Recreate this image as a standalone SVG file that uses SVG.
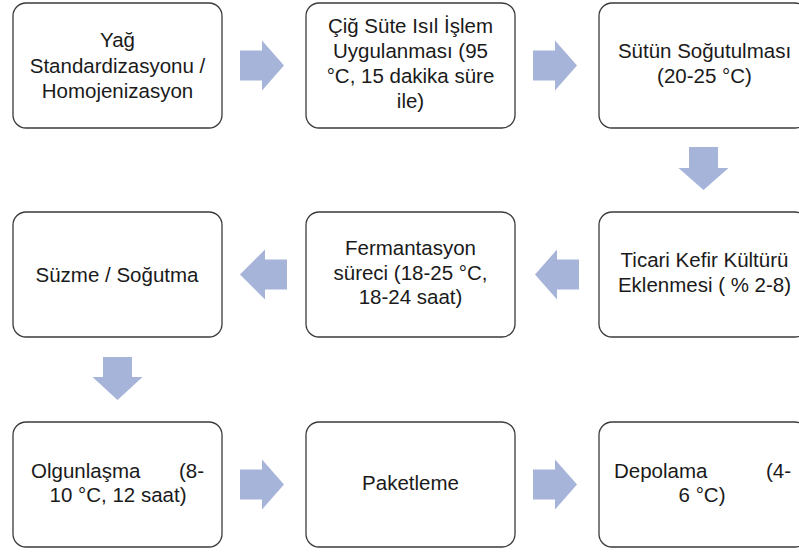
<svg xmlns="http://www.w3.org/2000/svg" width="799" height="552" viewBox="0 0 799 552">
<style>
.box{fill:#ffffff;stroke:#3a3a3a;stroke-width:1.3}
.arr{fill:#A7B4D9}
text{font-family:"Liberation Sans",Arial,sans-serif;font-size:20.5px;fill:#1a1a1a;text-anchor:middle}
.l{text-anchor:start}
.r{text-anchor:end}
</style>
<rect width="799" height="552" fill="#ffffff"/>
<g id="connectors">
<polygon class="arr" points="240,50.5 262,50.5 262,40.5 284,65.5 262,90.5 262,80.5 240,80.5"/>
<polygon class="arr" points="533,50.5 555,50.5 555,40.5 577,65.5 555,90.5 555,80.5 533,80.5"/>
<polygon class="arr" points="689,147 718,147 718,168 728.5,168 703.5,190 678.5,168 689,168"/>
<polygon class="arr" points="579,259.5 557,259.5 557,249.5 535,274.5 557,299.5 557,289.5 579,289.5"/>
<polygon class="arr" points="287,259.5 265,259.5 265,249.5 240,274.5 265,299.5 265,289.5 287,289.5"/>
<polygon class="arr" points="103,357 132,357 132,377 142.5,377 117.5,400 92.5,377 103,377"/>
<polygon class="arr" points="240,469.5 262,469.5 262,459.5 284,484.5 262,509.5 262,499.5 240,499.5"/>
<polygon class="arr" points="533,469.5 555,469.5 555,459.5 577,484.5 555,509.5 555,499.5 533,499.5"/>
</g>
<g id="n1">
<rect class="box" x="13" y="3" width="209" height="125" rx="13"/>
<text x="117.5" y="47">Yağ</text>
<text x="117.5" y="73">Standardizasyonu /</text>
<text x="117.5" y="98">Homojenizasyon</text>
</g>
<g id="n2">
<rect class="box" x="306" y="3" width="209" height="125" rx="13"/>
<text x="410.5" y="33">Çiğ Süte Isıl İşlem</text>
<text x="410.5" y="58">Uygulanması (95</text>
<text x="410.5" y="83">°C, 15 dakika süre</text>
<text x="410.5" y="108">ile)</text>
</g>
<g id="n3">
<rect class="box" x="599" y="3" width="209" height="125" rx="13"/>
<text x="704.5" y="58">Sütün Soğutulması</text>
<text x="704.5" y="83">(20-25 °C)</text>
</g>
<g id="n4">
<rect class="box" x="599" y="212" width="209" height="125" rx="13"/>
<text x="704.5" y="267">Ticari Kefir Kültürü</text>
<text x="704.5" y="292">Eklenmesi ( % 2-8)</text>
</g>
<g id="n5">
<rect class="box" x="306" y="212" width="209" height="125" rx="13"/>
<text x="410.5" y="255">Fermantasyon</text>
<text x="410.5" y="280">süreci (18-25 °C,</text>
<text x="410.5" y="304">18-24 saat)</text>
</g>
<g id="n6">
<rect class="box" x="13" y="212" width="209" height="125" rx="13"/>
<text x="117" y="282">Süzme / Soğutma</text>
</g>
<g id="n7">
<rect class="box" x="13" y="422" width="209" height="125" rx="13"/>
<text class="l" x="31" y="478">Olgunlaşma</text>
<text class="r" x="204" y="478">(8-</text>
<text x="118" y="502">10 °C, 12 saat)</text>
</g>
<g id="n8">
<rect class="box" x="306" y="422" width="209" height="125" rx="13"/>
<text x="410.5" y="490">Paketleme</text>
</g>
<g id="n9">
<rect class="box" x="599" y="422" width="209" height="125" rx="13"/>
<text class="l" x="614" y="478">Depolama</text>
<text class="r" x="791" y="478">(4-</text>
<text x="702" y="502">6 °C)</text>
</g>
</svg>
